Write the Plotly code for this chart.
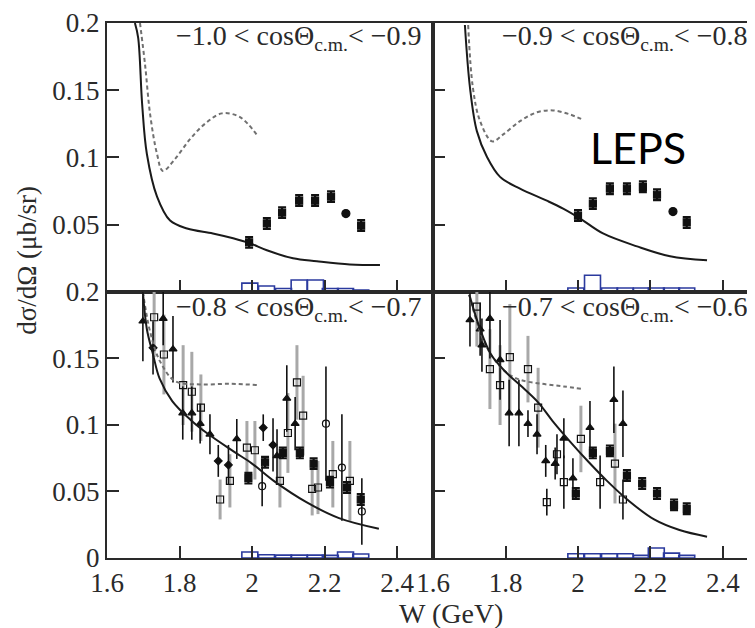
import plotly.graph_objects as go

# ---------------- data ----------------
# theory curves (solid = full model, dotted = alternative)
TL_solid_W = [1.677, 1.686, 1.697, 1.710, 1.738, 1.774, 1.821, 1.892, 1.948, 1.994, 2.041, 2.113, 2.179, 2.270, 2.353]
TL_solid_v = [0.200, 0.189, 0.1395, 0.1026, 0.0709, 0.0531, 0.0472, 0.0435, 0.0399, 0.0362, 0.0310, 0.0251, 0.0229, 0.0205, 0.0200]
TL_dot_W = [1.691, 1.705, 1.719, 1.738, 1.754, 1.788, 1.829, 1.870, 1.917, 1.967, 2.014]
TL_dot_v = [0.200, 0.169, 0.132, 0.1026, 0.090, 0.099, 0.1136, 0.125, 0.1328, 0.130, 0.1166]

TR_solid_W = [1.688, 1.702, 1.721, 1.749, 1.785, 1.840, 1.914, 1.959, 2.006, 2.069, 2.163, 2.254, 2.356]
TR_solid_v = [0.1985, 0.152, 0.1196, 0.1004, 0.0856, 0.0768, 0.0679, 0.0620, 0.0546, 0.0435, 0.0339, 0.0266, 0.0236]
TR_dot_W = [1.697, 1.710, 1.730, 1.763, 1.793, 1.840, 1.887, 1.931, 1.978, 2.014]
TR_dot_v = [0.1985, 0.152, 0.127, 0.112, 0.117, 0.127, 0.1336, 0.135, 0.132, 0.128]

BL_solid_W = [1.699, 1.710, 1.727, 1.745, 1.780, 1.830, 1.880, 1.950, 2.000, 2.060, 2.150, 2.240, 2.350]
BL_solid_v = [0.200, 0.172, 0.153, 0.135, 0.118, 0.104, 0.093, 0.080, 0.071, 0.058, 0.042, 0.030, 0.022]
BL_dot_W = [1.699, 1.719, 1.746, 1.788, 1.857, 1.939, 2.014]
BL_dot_v = [0.200, 0.170, 0.148, 0.133, 0.1305, 0.131, 0.130]

BR_solid_W = [1.700, 1.730, 1.760, 1.800, 1.840, 1.890, 1.930, 1.980, 2.030, 2.080, 2.140, 2.210, 2.280, 2.356]
BR_solid_v = [0.198, 0.172, 0.153, 0.140, 0.130, 0.117, 0.103, 0.087, 0.072, 0.058, 0.043, 0.029, 0.021, 0.016]
BR_dot_W = [1.700, 1.730, 1.760, 1.800, 1.840, 1.900, 1.960, 2.014]
BR_dot_v = [0.198, 0.170, 0.153, 0.140, 0.134, 0.131, 0.129, 0.127]

# LEPS data (filled squares)
TL_leps_W = [1.992, 2.041, 2.083, 2.130, 2.174, 2.218, 2.301]
TL_leps_v = [0.0369, 0.051, 0.059, 0.068, 0.068, 0.0709, 0.0494]
TL_circ_W = [2.259]
TL_circ_v = [0.0583]
TR_leps_W = [2.000, 2.041, 2.088, 2.135, 2.179, 2.218, 2.300]
TR_leps_v = [0.0568, 0.0657, 0.0768, 0.0768, 0.0782, 0.0723, 0.0517]
TR_circ_W = [2.262]
TR_circ_v = [0.0598]
LEPS_err = 0.004

BL_leps_W = [1.990, 2.036, 2.085, 2.132, 2.170, 2.215, 2.262, 2.300]
BL_leps_v = [0.060, 0.072, 0.079, 0.079, 0.071, 0.057, 0.053, 0.044]
BR_leps_W = [1.994, 2.041, 2.088, 2.135, 2.177, 2.218, 2.265, 2.300]
BR_leps_v = [0.0485, 0.079, 0.0806, 0.062, 0.056, 0.0485, 0.040, 0.037]

# other data sets, bottom-left
BL_og_W = [1.730, 1.757, 1.810, 1.834, 1.859, 1.912, 1.939, 1.986, 2.008, 2.077, 2.099, 2.124, 2.141, 2.166, 2.182, 2.223, 2.270]
BL_og_v = [0.181, 0.153, 0.130, 0.125, 0.113, 0.044, 0.058, 0.083, 0.081, 0.058, 0.094, 0.132, 0.107, 0.052, 0.053, 0.063, 0.058]
BL_og_e = [0.030, 0.030, 0.030, 0.030, 0.025, 0.015, 0.020, 0.020, 0.022, 0.020, 0.030, 0.028, 0.030, 0.020, 0.020, 0.025, 0.030]
BL_ob_W = [2.028, 2.204, 2.248, 2.303]
BL_ob_v = [0.054, 0.101, 0.068, 0.035]
BL_ob_e = [0.015, 0.043, 0.040, 0.025]
BL_tri_W = [1.699, 1.755, 1.782, 1.809, 1.834, 1.857, 1.884, 1.958, 2.069, 2.096, 2.119]
BL_tri_v = [0.178, 0.180, 0.157, 0.109, 0.109, 0.101, 0.093, 0.0895, 0.0768, 0.120, 0.101]
BL_tri_e = [0.030, 0.020, 0.025, 0.020, 0.020, 0.015, 0.015, 0.015, 0.020, 0.025, 0.020]
BL_dia_W = [1.727, 1.907, 1.935, 2.031, 2.058]
BL_dia_v = [0.158, 0.073, 0.070, 0.098, 0.085]
BL_dia_e = [0.020, 0.012, 0.015, 0.010, 0.020]

# other data sets, bottom-right
BR_og_W = [1.721, 1.757, 1.785, 1.812, 1.862, 1.890, 2.008, 2.102]
BR_og_v = [0.189, 0.142, 0.130, 0.151, 0.142, 0.113, 0.0895, 0.071]
BR_og_e = [0.030, 0.030, 0.030, 0.040, 0.025, 0.030, 0.025, 0.030]
BR_ob_W = [1.914, 1.942, 1.961, 2.061, 2.124]
BR_ob_v = [0.042, 0.078, 0.057, 0.057, 0.044]
BR_ob_e = [0.010, 0.015, 0.020, 0.020, 0.015]
BR_tri_W = [1.702, 1.730, 1.735, 1.757, 1.785, 1.810, 1.837, 1.862, 1.887, 1.911, 1.937, 1.961, 1.986, 2.033, 2.099, 2.124]
BR_tri_v = [0.179, 0.172, 0.160, 0.180, 0.149, 0.109, 0.109, 0.101, 0.093, 0.073, 0.071, 0.090, 0.060, 0.098, 0.119, 0.101]
BR_tri_e = [0.020, 0.020, 0.020, 0.030, 0.030, 0.025, 0.025, 0.010, 0.015, 0.012, 0.012, 0.015, 0.015, 0.020, 0.025, 0.025]

# systematic-error histograms (blue)
SYS_W = [1.994, 2.040, 2.087, 2.130, 2.175, 2.216, 2.258, 2.300]
TL_sys = [0.0066, 0.0044, 0.0026, 0.0089, 0.0089, 0.0026, 0.0026, 0.0015]
TR_sys = [0.0030, 0.0125, 0.0030, 0.0030, 0.0030, 0.0030, 0.0030, 0.0030]
BL_sys = [0.0045, 0.0025, 0.0022, 0.0022, 0.0022, 0.0020, 0.0045, 0.0030]
BR_sys = [0.0032, 0.0032, 0.0032, 0.0032, 0.0020, 0.0075, 0.0037, 0.0020]

PANEL_LABELS = ["−1.0 &lt; cosΘ<sub>c.m.</sub>&lt; −0.9", "−0.9 &lt; cosΘ<sub>c.m.</sub>&lt; −0.8",
                "−0.8 &lt; cosΘ<sub>c.m.</sub>&lt; −0.7", "−0.7 &lt; cosΘ<sub>c.m.</sub>&lt; −0.6"]
X_TICKS = [1.6, 1.8, 2.0, 2.2, 2.4]
X_TICKTEXT = ["1.6", "1.8", "2", "2.2", "2.4"]
Y_TICKS_TOP = [0.05, 0.1, 0.15, 0.2]
Y_TICKS_BOT = [0, 0.05, 0.1, 0.15, 0.2]
Y_TICKTEXT_TOP = ["0.05", "0.1", "0.15", "0.2"]
Y_TICKTEXT_BOT = ["0", "0.05", "0.1", "0.15", "0.2"]

# ---------------- figure ----------------
BLUE = "#2b3a9e"
DARK = "#2a2a2a"
GRAYBAR = "#a8a8a8"
SERIF = "'Liberation Serif', 'Times New Roman', 'DejaVu Serif', serif"

fig = go.Figure()

def axref(i):
    return ("x" if i == 1 else f"x{i}", "y" if i == 1 else f"y{i}")

def curve(W, v, p, dashed=False):
    xa, ya = axref(p)
    fig.add_trace(go.Scatter(x=W, y=v, mode="lines", xaxis=xa, yaxis=ya, line_shape="spline",
                             line=dict(color="#707070" if dashed else "#1a1a1a", width=2,
                                       dash="4px,3px" if dashed else "solid")))

def points(W, v, err, p, symbol, ecolor, ethick, ewidth=0, size=7, mcolor="#111111"):
    xa, ya = axref(p)
    fig.add_trace(go.Scatter(x=W, y=v, mode="markers", xaxis=xa, yaxis=ya,
                             marker=dict(symbol=symbol, size=size, color=mcolor,
                                         line=dict(color="#111111", width=1.2)),
                             error_y=dict(type="data", array=err, color=ecolor,
                                          thickness=ethick, width=ewidth)))

def hist(vals, p):
    xa, ya = axref(p)
    fig.add_trace(go.Bar(x=SYS_W, y=vals, width=0.044, xaxis=xa, yaxis=ya,
                         marker=dict(color="rgba(0,0,0,0)", line=dict(color=BLUE, width=1.6))))

# histograms first (behind)
hist(TL_sys, 1); hist(TR_sys, 2); hist(BL_sys, 3); hist(BR_sys, 4)

# bottom panels: other data
points(BL_og_W, BL_og_v, BL_og_e, 3, "square-open", GRAYBAR, 3)
points(BR_og_W, BR_og_v, BR_og_e, 4, "square-open", GRAYBAR, 3)
points(BL_tri_W, BL_tri_v, BL_tri_e, 3, "triangle-up", "#111111", 1.6)
points(BR_tri_W, BR_tri_v, BR_tri_e, 4, "triangle-up", "#111111", 1.6)
points(BL_ob_W, BL_ob_v, BL_ob_e, 3, "circle-open", "#111111", 1.6)
points(BR_ob_W, BR_ob_v, BR_ob_e, 4, "square-open", "#111111", 1.6)
points(BL_dia_W, BL_dia_v, BL_dia_e, 3, "diamond", "#111111", 1.6, size=6)

# curves
curve(TL_dot_W, TL_dot_v, 1, True); curve(TL_solid_W, TL_solid_v, 1)
curve(TR_dot_W, TR_dot_v, 2, True); curve(TR_solid_W, TR_solid_v, 2)
curve(BL_dot_W, BL_dot_v, 3, True); curve(BL_solid_W, BL_solid_v, 3)
curve(BR_dot_W, BR_dot_v, 4, True); curve(BR_solid_W, BR_solid_v, 4)

# LEPS points
for W, v, p in [(TL_leps_W, TL_leps_v, 1), (TR_leps_W, TR_leps_v, 2),
                (BL_leps_W, BL_leps_v, 3), (BR_leps_W, BR_leps_v, 4)]:
    points(W, v, [LEPS_err] * len(W), p, "square", "#111111", 2.2, ewidth=4, size=7)
points(TL_circ_W, TL_circ_v, [0.0] * len(TL_circ_W), 1, "circle", "#111111", 0, size=8)
points(TR_circ_W, TR_circ_v, [0.0] * len(TR_circ_W), 2, "circle", "#111111", 0, size=8)

XSPLIT = 0.50309
YSPLIT = 0.49722
TICKFONT = dict(family=SERIF, size=27, color=DARK)

def xax(domain, anchor, rng, labels):
    return dict(domain=domain, anchor=anchor, range=rng, showgrid=False, zeroline=False,
                showline=True, linecolor=DARK, linewidth=2, mirror=True,
                ticks="inside", ticklen=12, tickwidth=1.8, tickcolor=DARK,
                tickvals=X_TICKS, ticktext=X_TICKTEXT, showticklabels=labels,
                tickfont=TICKFONT)

def yax(domain, anchor, tv, tt, labels, mirror):
    return dict(domain=domain, anchor=anchor, range=[0, 0.2], showgrid=False, zeroline=False,
                showline=True, linecolor=DARK, linewidth=2, mirror=mirror,
                ticks="inside", ticklen=12, tickwidth=1.8, tickcolor=DARK,
                tickvals=tv, ticktext=tt, showticklabels=labels,
                tickfont=TICKFONT)

# the page body adds an 8px offset, so the figure is 8px smaller than the window
fig.update_layout(
    width=747, height=620,
    margin=dict(l=99, r=0, t=10, b=70),
    paper_bgcolor="white", plot_bgcolor="white",
    font=dict(family=SERIF, color=DARK),
    showlegend=False, barmode="overlay",
    xaxis=xax([0, XSPLIT], "y", [1.6, 2.4993], False),
    xaxis2=xax([XSPLIT, 1], "y2", [1.6, 2.4883], False),
    xaxis3=xax([0, XSPLIT], "y3", [1.6, 2.4993], True),
    xaxis4=xax([XSPLIT, 1], "y4", [1.6, 2.4883], True),
    yaxis=yax([YSPLIT, 1], "x", Y_TICKS_TOP, Y_TICKTEXT_TOP, True, True),
    yaxis2=yax([YSPLIT, 1], "x2", Y_TICKS_TOP, Y_TICKTEXT_TOP, False, False),
    yaxis3=yax([0, YSPLIT], "x3", Y_TICKS_BOT, Y_TICKTEXT_BOT, True, True),
    yaxis4=yax([0, YSPLIT], "x4", Y_TICKS_BOT, Y_TICKTEXT_BOT, False, False),
)

ann_font = dict(family=SERIF, size=28, color=DARK)
pos = [(0.4880, 0.9720), (0.9900, 0.9720), (0.4880, 0.4670), (0.9900, 0.4670)]
for (px, py), txt in zip(pos, PANEL_LABELS):
    fig.add_annotation(x=px, y=py, xref="paper", yref="paper", xanchor="right", yanchor="middle",
                       text=txt, showarrow=False, font=ann_font)

fig.add_annotation(x=0.5309, y=-0.104, xref="paper", yref="paper", xanchor="center", yanchor="middle",
                   text="W (GeV)", showarrow=False, font=dict(family=SERIF, size=28, color=DARK))
fig.add_annotation(x=-0.1235, y=0.5574, xref="paper", yref="paper", xanchor="center", yanchor="middle",
                   text="dσ/dΩ (μb/sr)", textangle=-90, showarrow=False,
                   font=dict(family=SERIF, size=27, color=DARK))
fig.add_annotation(x=0.8194, y=0.768, xref="paper", yref="paper", xanchor="center", yanchor="middle",
                   text="LEPS", showarrow=False, font=dict(family="Lato", size=43, color="black"))
fig.add_annotation(x=0.2623, y=1.076, xref="paper", yref="paper", xanchor="left", yanchor="middle",
                   text="p(γ,p)Λ(1520)", showarrow=False, font=dict(family="Lato", size=44, color="black"))

fig.write_html("out.html")
